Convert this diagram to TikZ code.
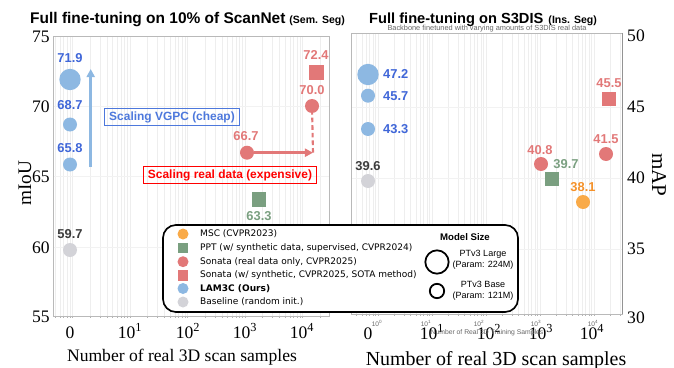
\documentclass[tikz,border=0pt]{standalone}
\usepackage{fontspec}
\setmainfont{Liberation Serif}
\setsansfont{Liberation Sans}
\newfontfamily\legfont{DejaVu Sans}
\usepackage{xcolor}
\usepackage{tikz}
\usetikzlibrary{arrows.meta, positioning}

\definecolor{lamblue}{HTML}{8DB8E2}
\definecolor{lamtext}{HTML}{3F66D8}
\definecolor{sonred}{HTML}{E27878}
\definecolor{pptgreen}{HTML}{7A9F80}
\definecolor{msco}{HTML}{F9AA48}
\definecolor{mscotext}{HTML}{F5922A}
\definecolor{basegray}{HTML}{D3D3D8}
\definecolor{basetext}{HTML}{3C3C3C}
\definecolor{boxblue}{HTML}{4D78DC}

\begin{document}
\begin{tikzpicture}[x=0.03cm, y=-0.03cm,
    plotframe/.style={draw=gray!55, line width=0.6pt},
    minorgrid/.style={draw=gray!13, line width=0.4pt},
    majorgrid/.style={draw=gray!10, line width=0.5pt},
    smalltick/.style={draw=gray!60, line width=0.4pt},
    bubble/.style={circle, fill=#1, inner sep=0pt, minimum size=0.42cm},
    bigbubble/.style={circle, fill=#1, inner sep=0pt, minimum size=0.64cm},
    sqmark/.style={rectangle, fill=#1, inner sep=0pt, minimum size=0.44cm},
    val/.style={font=\sffamily\bfseries\fontsize{11}{12}\selectfont, text=#1, inner sep=0pt},
    ticklab/.style={font=\fontsize{15}{17}\selectfont, inner sep=0pt},
    ghost/.style={font=\sffamily\fontsize{5.6}{6}\selectfont, text=gray!80!black, inner sep=0pt},
    legdot/.style={circle, fill=#1, inner sep=0pt, minimum size=0.33cm},
    legsq/.style={rectangle, fill=#1, inner sep=0pt, minimum size=0.32cm},
    legtext/.style={font=\legfont\fontsize{7.7}{9}\selectfont, anchor=west, inner sep=0pt},
    sizetext/.style={font=\sffamily\fontsize{7.7}{9.4}\selectfont, align=center, inner sep=0pt},
    callout/.style={draw=#1, text=#1, line width=0.8pt, font=\sffamily\bfseries\fontsize{10.2}{12}\selectfont, inner sep=2.2pt},
    grow/.style={draw=#1, line width=2.3pt, -{Triangle[length=7pt,width=7pt]}}]

    \useasboundingbox (0,0) rectangle (674,368);

    % titles
    \node [font=\sffamily\bfseries\fontsize{13.2}{15}\selectfont, anchor=base west, inner sep=0pt] (lefttitle) at (30,24) {Full fine-tuning on 10\% of ScanNet};
    \node [font=\sffamily\bfseries\fontsize{9}{10}\selectfont, anchor=base west, inner sep=0pt] (leftsub) at ([xshift=3pt]lefttitle.base east) {(Sem. Seg)};
    \node [ghost, font=\sffamily\fontsize{6.3}{7}\selectfont] (ghosttitle) at (487,29) {Backbone finetuned with varying amounts of S3DIS real data};
    \node [font=\sffamily\bfseries\fontsize{12.5}{15}\selectfont, anchor=base west, inner sep=0pt] (righttitle) at (369,24) {Full fine-tuning on S3DIS};
    \node [font=\sffamily\bfseries\fontsize{9}{10}\selectfont, anchor=base west, inner sep=0pt] (rightsub) at ([xshift=4pt]righttitle.base east) {(Ins. Seg)};

    % grids, left panel
    \begin{scope}
        \clip (53,36) rectangle (329,316);
        \foreach \d in {-1,...,4}
            \foreach \k in {1,...,9}
                \draw [minorgrid] ({72.5+57.5*(\d+ln(\k)/ln(10))},36) -- ++(0,280);
        \foreach \yy in {106,176,247}
            \draw [majorgrid] (53,\yy) -- (329,\yy);
    \end{scope}
    \foreach \d in {-1,...,4}
        \foreach \k in {1,...,9}{
            \pgfmathsetmacro{\xx}{72.5+57.5*(\d+ln(\k)/ln(10))}
            \ifdim \xx pt>53pt \ifdim \xx pt<329pt
                \draw [smalltick] (\xx,316) -- ++(0,2);
            \fi\fi
        }
    \draw [plotframe] (53,36) rectangle (329,316);

    % grids, right panel
    \begin{scope}
        \clip (351,33) rectangle (622,314);
        \foreach \d in {-1,...,4}
            \foreach \k in {1,...,9}
                \draw [minorgrid] ({378+54*(\d+ln(\k)/ln(10))},33) -- ++(0,281);
        \foreach \yy in {107,178,249}
            \draw [majorgrid] (351,\yy) -- (622,\yy);
    \end{scope}
    \foreach \d in {-1,...,4}
        \foreach \k in {1,...,9}{
            \pgfmathsetmacro{\xx}{378+54*(\d+ln(\k)/ln(10))}
            \ifdim \xx pt>351pt \ifdim \xx pt<622pt
                \draw [smalltick] (\xx,314) -- ++(0,2);
            \fi\fi
        }
    \draw [plotframe] (351,33) rectangle (622,314);
    \draw [draw=gray!85, line width=0.7pt] (622,33) -- (622,314);

    % axis labels, left
    \node [ticklab, anchor=east] (l75) at (50,37) {75};
    \node [ticklab, anchor=east] (l70) at (50,107) {70};
    \node [ticklab, anchor=east] (l65) at (50,177) {65};
    \node [ticklab, anchor=east] (l60) at (50,248) {60};
    \node [ticklab, anchor=east] (l55) at (50,317) {55};
    \node [ticklab, anchor=base] (lx0) at (70,338) {0};
    \node [ticklab, anchor=base] (lx1) at (130,338) {10\textsuperscript{1}};
    \node [ticklab, anchor=base] (lx2) at (188,338) {10\textsuperscript{2}};
    \node [ticklab, anchor=base] (lx3) at (245,338) {10\textsuperscript{3}};
    \node [ticklab, anchor=base] (lx4) at (302,338) {10\textsuperscript{4}};
    \node [ticklab, anchor=base] (leftxlab) at (182,361) {Number of real 3D scan samples};
    \node [font=\fontsize{16.4}{18}\selectfont, rotate=90, inner sep=0pt] (leftylab) at (25,183) {mIoU};

    % axis labels, right
    \node [ticklab, anchor=west] (r50) at (627,36) {50};
    \node [ticklab, anchor=west] (r45) at (627,107) {45};
    \node [ticklab, anchor=west] (r40) at (627,178) {40};
    \node [ticklab, anchor=west] (r35) at (627,249) {35};
    \node [ticklab, anchor=west] (r30) at (627,318) {30};
    \node [ghost] (g0) at (377,323) {10\textsuperscript{0}};
    \node [ghost] (g1) at (426,323) {10\textsuperscript{1}};
    \node [ghost] (g2) at (479,323) {10\textsuperscript{2}};
    \node [ghost] (g3) at (536,323) {10\textsuperscript{3}};
    \node [ghost] (g4) at (593,323) {10\textsuperscript{4}};
    \node [ticklab, anchor=base] (rx0) at (368,339) {0};
    \node [ticklab, anchor=base] (rx1) at (432,339) {10\textsuperscript{1}};
    \node [ticklab, anchor=base] (rx2) at (489,339) {10\textsuperscript{2}};
    \node [ticklab, anchor=base] (rx3) at (541,339) {10\textsuperscript{3}};
    \node [ticklab, anchor=base] (rx4) at (592,339) {10\textsuperscript{4}};
    \node [ghost, font=\sffamily\fontsize{5.8}{6}\selectfont] (ghostxlab) at (487,333) {Number of Real 3D Training Samples};
    \node [font=\fontsize{17}{19}\selectfont, anchor=base, inner sep=0pt] (rightxlab) at (496,365) {Number of real 3D scan samples};
    \node [font=\fontsize{18}{20}\selectfont, rotate=-90, inner sep=0pt] (rightylab) at (659,175) {mAP};

    % callouts
    \node [callout=boxblue, minimum width=4.05cm] (vgpcbox) at (172,117) {Scaling VGPC (cheap)};
    \node [callout=red, minimum width=5.2cm] (realbox) at (230,175) {Scaling real data (expensive)};

    % left markers
    \node [bigbubble=lamblue] (a719) at (70,79.5) {};
    \node [bubble=lamblue] (a687) at (70,124.5) {};
    \node [bubble=lamblue] (a658) at (70,164.5) {};
    \node [bubble=basegray] (a597) at (70,250) {};
    \node [bubble=sonred] (a667) at (247,152.7) {};
    \node [bubble=sonred] (a700) at (312,106) {};
    \node [sqmark=sonred] (a724) at (316.5,72.5) {};
    \node [sqmark=pptgreen] (a633) at (259,199.5) {};

    \coordinate (vgpclow) at (90.7,167);
    \coordinate (vgpchigh) at (90.7,69);
    \coordinate (realcorner) at (313,152.7);
    \draw [grow=lamblue] (vgpclow) -- (vgpchigh);
    \draw [grow=sonred] (a667) -- (realcorner);
    \draw [draw=sonred, line width=1.8pt, dash pattern=on 4pt off 2.5pt] (realcorner) -- (a700);

    \node [val=lamtext] (v719) at (70,58) {71.9};
    \node [val=lamtext] (v687) at (70,105.5) {68.7};
    \node [val=lamtext] (v658) at (70,148) {65.8};
    \node [val=basetext] (v597) at (70,234) {59.7};
    \node [val=sonred] (v667) at (246,136) {66.7};
    \node [val=sonred] (v700) at (312,90) {70.0};
    \node [val=sonred] (v724) at (316,55) {72.4};
    \node [val=pptgreen] (v633) at (259,216) {63.3};

    % right markers
    \node [bigbubble=lamblue] (b472) at (368,74.5) {};
    \node [bubble=lamblue] (b457) at (368,95.7) {};
    \node [bubble=lamblue] (b433) at (368,129) {};
    \node [bubble=basegray] (b396) at (368,181) {};
    \node [bubble=sonred] (b408) at (541,164) {};
    \node [sqmark=pptgreen] (b397) at (552,179) {};
    \node [bubble=msco] (b381) at (583,202) {};
    \node [bubble=sonred] (b415) at (606,154) {};
    \node [sqmark=sonred] (b455) at (609,99) {};

    \node [val=lamtext, anchor=west] (w472) at (383,74.5) {47.2};
    \node [val=lamtext, anchor=west] (w457) at (383,96) {45.7};
    \node [val=lamtext, anchor=west] (w433) at (383,129) {43.3};
    \node [val=basetext] (w396) at (368,166.5) {39.6};
    \node [val=sonred] (w408) at (540,150) {40.8};
    \node [val=pptgreen] (w397) at (566,164) {39.7};
    \node [val=mscotext] (w381) at (583,187) {38.1};
    \node [val=sonred] (w415) at (606,139) {41.5};
    \node [val=sonred] (w455) at (609,83) {45.5};

    % legend
    \draw [fill=white, line width=1.4pt, rounded corners=11pt] (163,225) rectangle (518,312);
    \node [legdot=msco] (lmsc) at (183,234) {};
    \node [legsq=pptgreen] (lppt) at (183,248) {};
    \node [legdot=sonred] (lson) at (183,261.7) {};
    \node [legsq=sonred] (lsonsyn) at (183,275.5) {};
    \node [legdot=lamblue] (llam) at (183,288.5) {};
    \node [legdot=basegray] (lbase) at (183,302) {};
    \node [legtext] (tmsc) at (200,234) {MSC (CVPR2023)};
    \node [legtext] (tppt) at (200,248) {PPT (w/ synthetic data, supervised, CVPR2024)};
    \node [legtext] (tson) at (200,261.7) {Sonata (real data only, CVPR2025)};
    \node [legtext] (tsonsyn) at (200,275.5) {Sonata (w/ synthetic, CVPR2025, SOTA method)};
    \node [legtext, font=\legfont\bfseries\fontsize{7.7}{9}\selectfont] (tlam) at (200,288.5) {LAM3C (Ours)};
    \node [legtext] (tbase) at (200,302) {Baseline (random init.)};

    \node [font=\sffamily\bfseries\fontsize{8.2}{10}\selectfont, inner sep=0pt] (msize) at (465,237) {Model Size};
    \node [circle, draw, line width=1.5pt, minimum size=0.7cm, inner sep=0pt] (largering) at (437,262) {};
    \node [circle, draw, line width=1.5pt, minimum size=0.43cm, inner sep=0pt] (basering) at (437,291) {};
    \node [sizetext] (tlarge) at (483,259.5) {PTv3 Large\\(Param: 224M)};
    \node [sizetext] (tbasesize) at (483,291) {PTv3 Base\\(Param: 121M)};
\end{tikzpicture}
\end{document}
